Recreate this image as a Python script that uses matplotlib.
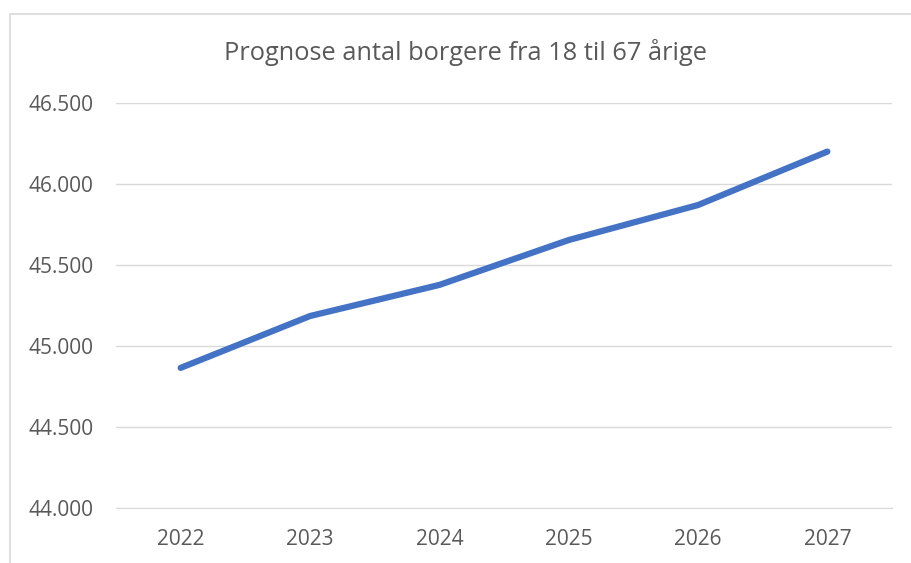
import matplotlib.pyplot as plt
from matplotlib.patches import Rectangle
from matplotlib.ticker import FuncFormatter

# Data
years = ['2022', '2023', '2024', '2025', '2026', '2027']
borgere = [44865, 45185, 45377, 45654, 45870, 46200]

plt.rcParams['font.family'] = ['Open Sans', 'DejaVu Sans']

fig = plt.figure(figsize=(9.11, 5.63), dpi=100)
fig.patch.set_facecolor('white')

# chart frame (only left and top visible in the crop)
fig.patches.append(Rectangle((10/911, -0.2), 1.2, 1 - 14/563 + 0.2,
                             transform=fig.transFigure, fill=False,
                             edgecolor='#d9d9d9', linewidth=1.2))

ax = fig.add_axes([116/911, 1 - 508/563, (892 - 116)/911, (508 - 103)/563])

x = range(len(years))
ax.plot(x, borgere, color='#4472C4', linewidth=4.5, solid_capstyle='round',
        solid_joinstyle='round')

ax.set_xlim(-0.5, len(years) - 0.5)
ax.set_ylim(44000, 46500)
ax.set_yticks(range(44000, 46501, 500))
ax.yaxis.set_major_formatter(FuncFormatter(lambda v, p: f'{int(v):,}'.replace(',', '.')))
ax.set_xticks(list(x))
ax.set_xticklabels(years)

ax.grid(axis='y', color='#d9d9d9', linewidth=1)
ax.set_axisbelow(True)
for s in ['top', 'right', 'left']:
    ax.spines[s].set_visible(False)
ax.spines['bottom'].set_color('#d9d9d9')
ax.tick_params(length=0, labelsize=15, colors='#595959')
ax.tick_params(axis='y', pad=16)
ax.tick_params(axis='x', pad=15)

fig.text(465/911, 1 - 53/563, 'Prognose antal borgere fra 18 til 67 årige',
         ha='center', va='center', fontsize=18.3, color='#595959')

plt.savefig('out.png', dpi=100)
